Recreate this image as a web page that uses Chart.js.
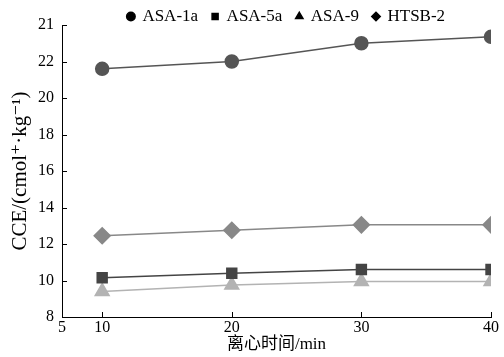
<!DOCTYPE html>
<html>
<head>
<meta charset="utf-8">
<script src="https://cdn.jsdelivr.net/npm/chart.js@4.4.1/dist/chart.umd.min.js"></script>
<style>
  html, body { margin: 0; padding: 0; background: #fff; }
  #wrap { width: 504px; height: 357px; }
</style>
</head>
<body>
<div id="wrap"><canvas id="cce"></canvas></div>
<script>
// centrifuge time (min)
const times = [10, 20, 30, 40];
const asa1a = [21.6, 22.0, 23.0, 23.35];
const asa5a = [10.15, 10.4, 10.6, 10.6];
const asa9 = [9.4, 9.75, 9.95, 9.95];
const htsb2 = [12.45, 12.75, 13.05, 13.05];

// y tick labels as printed on the original (top one reads 21)
const yTickValues = [8, 10, 12, 14, 16, 18, 20, 22, 24];
const yTickLabels = ['8', '10', '12', '14', '16', '18', '20', '22', '21'];
const xTickValues = [10, 20, 30, 40];
const xOriginLabel = '5';
const xMin = 6.9;

const serif = '"Liberation Serif", "DejaVu Serif", serif';

function toPoints(ys) {
	return times.map((t, i) => ({ x: t, y: ys[i] }));
}

// inward tick marks on both axes, plus a couple of layout tweaks
const axisTweaks = {
	id: 'axisTweaks',
	beforeInit(chart) {
		// let the plot top sit close under the legend row
		const fit = chart.legend.fit;
		chart.legend.fit = function () {
			fit.call(this);
			this.height = 25;
		};
	},
	afterLayout(chart) {
		// legend sits a bit right of centre and high in the original
		chart.legend.left += 41;
		chart.legend.right += 41;
		chart.legend.top -= 6;
	},
	afterDraw(chart) {
		const ctx = chart.ctx;
		const x = chart.scales.x;
		const y = chart.scales.y;
		const left = chart.chartArea.left;
		const bottom = chart.chartArea.bottom;
		ctx.save();
		ctx.strokeStyle = '#000';
		ctx.lineWidth = 1;
		ctx.beginPath();
		xTickValues.forEach(v => {
			const px = Math.round(x.getPixelForValue(v)) + 0.5;
			ctx.moveTo(px, bottom);
			ctx.lineTo(px, bottom - 5);
		});
		yTickValues.forEach(v => {
			const py = Math.round(y.getPixelForValue(v)) + 0.5;
			ctx.moveTo(left, py);
			ctx.lineTo(left + 5, py);
		});
		ctx.stroke();
		ctx.restore();
	}
};

const legendColor = '#000';

new Chart(document.getElementById('cce'), {
	type: 'line',
	data: {
		datasets: [
			{
				label: 'ASA-1a',
				data: toPoints(asa1a),
				borderColor: '#555',
				backgroundColor: '#555',
				pointStyle: 'circle',
				pointRadius: 6.5,
				borderWidth: 1.5
			},
			{
				label: 'ASA-5a',
				data: toPoints(asa5a),
				borderColor: '#444',
				backgroundColor: '#444',
				pointStyle: 'rect',
				pointRadius: 7,
				borderWidth: 1.5
			},
			{
				label: 'ASA-9',
				data: toPoints(asa9),
				borderColor: '#b3b3b3',
				backgroundColor: '#b3b3b3',
				pointStyle: 'triangle',
				pointRadius: 8,
				borderWidth: 1.5
			},
			{
				label: 'HTSB-2',
				data: toPoints(htsb2),
				borderColor: '#888',
				backgroundColor: '#888',
				pointStyle: 'rectRot',
				pointRadius: 8,
				borderWidth: 1.5
			}
		]
	},
	options: {
		responsive: true,
		maintainAspectRatio: false,
		animation: false,
		layout: { padding: { left: 0, right: 13, top: 0, bottom: 0 } },
		plugins: {
			tooltip: { enabled: false },
			legend: {
				position: 'top',
				labels: {
					usePointStyle: true,
					boxWidth: 6,
					boxHeight: 6,
					padding: 14,
					color: '#000',
					font: { family: serif, size: 17 },
					generateLabels(chart) {
						return Chart.defaults.plugins.legend.labels.generateLabels(chart).map(l => {
							l.fillStyle = legendColor;
							l.strokeStyle = legendColor;
							return l;
						});
					}
				}
			}
		},
		scales: {
			x: {
				type: 'linear',
				min: xMin,
				max: 40,
				afterBuildTicks(scale) {
					scale.ticks = [{ value: xMin }].concat(xTickValues.map(v => ({ value: v })));
				},
				afterFit(scale) {
					scale.height = 40;
				},
				grid: { display: false, drawTicks: false },
				border: { color: '#000', width: 1 },
				ticks: {
					color: '#000',
					padding: 1,
					font: { family: serif, size: 16 },
					callback: v => (v === xMin ? xOriginLabel : String(v))
				},
				title: {
					display: true,
					text: '离心时间/min',
					color: '#000',
					padding: { top: 0, bottom: 2 },
					font: { family: '"Liberation Serif", "Noto Sans CJK SC", serif', size: 17 }
				}
			},
			y: {
				type: 'linear',
				min: 8,
				max: 24,
				afterBuildTicks(scale) {
					scale.ticks = yTickValues.map(v => ({ value: v }));
				},
				afterFit(scale) {
					scale.width = 62;
				},
				grid: { display: false, drawTicks: false },
				border: { color: '#000', width: 1 },
				ticks: {
					color: '#000',
					padding: 8,
					font: { family: serif, size: 16 },
					callback: v => yTickLabels[yTickValues.indexOf(v)]
				},
				title: {
					display: true,
					text: 'CCE/(cmol⁺·kg⁻¹)',
					color: '#000',
					padding: { top: 8, bottom: 0 },
					font: { family: serif, size: 21 }
				}
			}
		}
	},
	plugins: [axisTweaks]
});
</script>
</body>
</html>
